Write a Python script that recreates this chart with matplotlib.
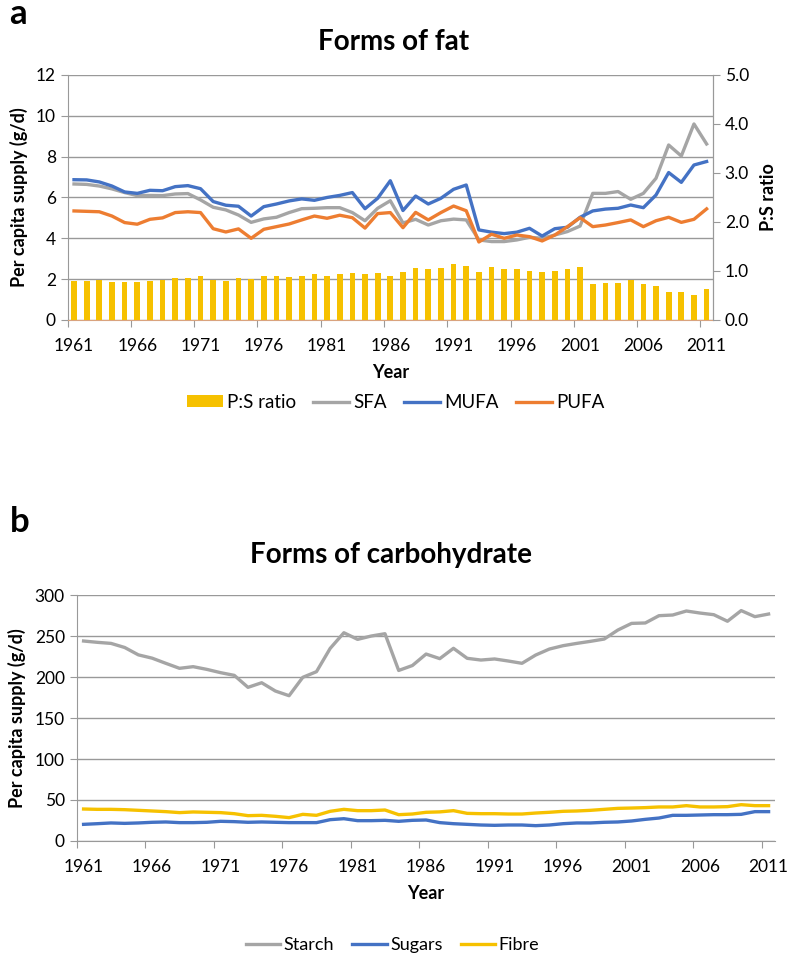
import numpy as np
import matplotlib
matplotlib.use('Agg')
import matplotlib.pyplot as plt
from matplotlib.patches import Patch
from matplotlib.lines import Line2D

plt.rcParams['font.family'] = ['Lato', 'DejaVu Sans']

# Años 1961-2011
years = list(range(1961, 2012))
year_labels = [str(y) for y in years[::5]]

# Panel a: formas de grasa (g/d) y razón P:S
sfa = [6.66, 6.64, 6.56, 6.42, 6.24, 6.09, 6.10, 6.09, 6.17, 6.19,
       5.88, 5.52, 5.39, 5.14, 4.78, 4.95, 5.03, 5.26, 5.45, 5.47,
       5.50, 5.50, 5.26, 4.86, 5.47, 5.84, 4.75, 4.93, 4.65, 4.86,
       4.94, 4.90, 3.92, 3.84, 3.84, 3.92, 4.05, 4.00, 4.16, 4.33,
       4.60, 6.20, 6.20, 6.29, 5.91, 6.20, 6.94, 8.57, 8.03, 9.60,
       8.62]
mufa = [6.87, 6.86, 6.76, 6.56, 6.27, 6.20, 6.35, 6.33, 6.53, 6.58,
        6.43, 5.80, 5.62, 5.57, 5.09, 5.55, 5.68, 5.83, 5.93, 5.86,
        6.00, 6.10, 6.24, 5.45, 5.96, 6.82, 5.36, 6.07, 5.68, 5.96,
        6.40, 6.61, 4.41, 4.30, 4.23, 4.30, 4.49, 4.11, 4.47, 4.54,
        5.03, 5.34, 5.43, 5.47, 5.63, 5.50, 6.12, 7.22, 6.74, 7.59,
        7.76]
pufa = [5.34, 5.32, 5.30, 5.09, 4.77, 4.69, 4.93, 5.00, 5.26, 5.30,
        5.26, 4.47, 4.31, 4.46, 4.00, 4.44, 4.57, 4.70, 4.90, 5.09,
        4.98, 5.13, 5.01, 4.50, 5.21, 5.26, 4.52, 5.27, 4.90, 5.26,
        5.58, 5.35, 3.82, 4.20, 4.00, 4.16, 4.08, 3.87, 4.16, 4.57,
        5.01, 4.57, 4.65, 4.77, 4.90, 4.57, 4.86, 5.03, 4.78, 4.93,
        5.44]
ps_ratio = [0.80, 0.80, 0.82, 0.78, 0.77, 0.77, 0.80, 0.82, 0.85, 0.85,
            0.89, 0.82, 0.80, 0.86, 0.84, 0.89, 0.90, 0.88, 0.89, 0.93,
            0.90, 0.93, 0.95, 0.93, 0.95, 0.90, 0.97, 1.06, 1.03, 1.06,
            1.14, 1.10, 0.97, 1.09, 1.03, 1.05, 0.99, 0.97, 0.99, 1.05,
            1.09, 0.73, 0.75, 0.75, 0.82, 0.73, 0.69, 0.58, 0.58, 0.51,
            0.63]

# Panel b: formas de carbohidrato (g/d)
starch = [243.9, 242.3, 241.0, 236.0, 227.0, 223.0, 216.7, 210.6, 212.6, 209.3,
          205.3, 202.0, 187.4, 193.0, 182.9, 177.2, 199.6, 206.5, 234.9, 254.0,
          245.9, 250.0, 252.8, 208.0, 214.0, 228.0, 222.4, 235.0, 222.8, 220.7,
          222.0, 219.5, 216.7, 226.8, 234.1, 238.2, 241.0, 243.5, 246.3, 257.3,
          265.4, 265.9, 274.8, 275.6, 280.5, 278.0, 276.0, 268.0, 281.0, 273.6,
          276.8]
sugars = [20.3, 21.1, 22.0, 21.5, 22.0, 22.8, 23.2, 22.4, 22.4, 22.8,
          24.0, 23.6, 22.8, 23.2, 22.8, 22.4, 22.4, 22.4, 26.0, 27.2,
          24.8, 24.8, 25.2, 24.0, 25.2, 25.6, 22.4, 21.1, 20.3, 19.5,
          19.1, 19.5, 19.5, 18.7, 19.5, 21.1, 22.0, 22.0, 22.8, 23.2,
          24.4, 26.4, 28.0, 31.3, 31.3, 31.7, 32.1, 32.1, 32.5, 35.8,
          35.8]
fibre = [39.0, 38.6, 38.6, 38.2, 37.4, 36.6, 35.8, 34.6, 35.4, 35.0,
         34.6, 33.3, 30.9, 31.3, 30.1, 28.5, 32.5, 31.3, 36.2, 38.6,
         37.0, 37.0, 37.8, 32.1, 32.9, 35.0, 35.5, 37.0, 33.7, 33.3,
         33.3, 32.9, 32.9, 34.1, 35.0, 36.2, 36.6, 37.4, 38.6, 39.8,
         40.2, 40.7, 41.5, 41.5, 43.1, 41.5, 41.5, 41.9, 44.3, 43.1,
         43.1]

c_gray = '#a5a5a5'
c_blue = '#4472c4'
c_orange = '#ed7d31'
c_gold = '#f6c100'
c_grid = '#999999'
tick_fs = 12.5
lw = 2.4

x = np.arange(len(years))


def style_xaxis(ax):
    ax.set_xlim(-0.5, len(years) - 0.5)
    ax.set_xticks(np.arange(-0.5, len(years) - 1, 5))
    ax.set_xticklabels([])
    ax.set_xticks(x[::5], minor=True)
    ax.set_xticklabels(year_labels, minor=True, fontsize=tick_fs)
    ax.tick_params(axis='x', which='major', length=5, color=c_grid, direction='out')
    ax.tick_params(axis='x', which='minor', length=0, pad=13)
    ax.set_xlabel('Year', fontweight='bold', fontsize=13, labelpad=7)


fig = plt.figure(figsize=(7.87, 9.56), dpi=100)

# ---- Panel a ----
pos_a = [0.0860, 0.6653, 0.8199, 0.2563]
ax = fig.add_axes(pos_a)
ax.set_ylim(0, 12)
ax.set_yticks(range(0, 13, 2))
ax.grid(axis='y', color=c_grid, linewidth=1)
ax.set_axisbelow(True)
ax.tick_params(axis='y', length=5, color=c_grid, labelsize=tick_fs)
ax.spines['top'].set_visible(False)
ax.spines['left'].set_color(c_grid)
ax.spines['right'].set_color(c_grid)
ax.spines['bottom'].set_color('#d9a37e')
style_xaxis(ax)
ax.set_ylabel('Per capita supply (g/d)', fontweight='bold', fontsize=13, labelpad=6)

ax_r = ax.twinx()
ax_r.set_ylim(0, 5)
ax_r.set_yticks(np.arange(0, 5.1, 1))
ax_r.set_yticklabels([f'{v:.1f}' for v in np.arange(0, 5.1, 1)])
ax_r.tick_params(axis='y', length=5, color=c_grid, labelsize=tick_fs)
ax_r.bar(x, ps_ratio, width=0.45, color=c_gold, zorder=2)
for s in ['top', 'bottom', 'left']:
    ax_r.spines[s].set_visible(False)
ax_r.spines['right'].set_color(c_grid)
ax_r.set_ylabel('P:S ratio', fontweight='bold', fontsize=13, labelpad=8)

ax_l = fig.add_axes(pos_a, sharex=ax, sharey=ax)
ax_l.patch.set_visible(False)
ax_l.axis('off')
ax_l.plot(x, sfa, color=c_gray, lw=lw)
ax_l.plot(x, mufa, color=c_blue, lw=lw)
ax_l.plot(x, pufa, color=c_orange, lw=lw)

fig.text(0.5, 0.956, 'Forms of fat', ha='center', va='center',
         fontsize=20, fontweight='bold')
fig.text(0.012, 0.985, 'a', ha='left', va='center', fontsize=25, fontweight='bold')

h_a = [Patch(facecolor=c_gold, edgecolor='none'),
       Line2D([], [], color=c_gray, lw=lw),
       Line2D([], [], color=c_blue, lw=lw),
       Line2D([], [], color=c_orange, lw=lw)]
fig.legend(h_a, ['P:S ratio', 'SFA', 'MUFA', 'PUFA'], loc='center',
           bbox_to_anchor=(0.503, 0.579), ncol=4, frameon=False,
           fontsize=13.5, handlelength=1.9, handleheight=0.6,
           columnspacing=0.9, handletextpad=0.25)

# ---- Panel b ----
pos_b = [0.0975, 0.1203, 0.8878, 0.2573]
bx = fig.add_axes(pos_b)
bx.set_ylim(0, 300)
bx.set_yticks(range(0, 301, 50))
bx.grid(axis='y', color=c_grid, linewidth=1)
bx.set_axisbelow(True)
bx.tick_params(axis='y', length=5, color=c_grid, labelsize=tick_fs)
for s in ['top', 'right']:
    bx.spines[s].set_visible(False)
bx.spines['left'].set_color(c_grid)
bx.spines['bottom'].set_color(c_grid)
style_xaxis(bx)
bx.set_ylabel('Per capita supply (g/d)', fontweight='bold', fontsize=13, labelpad=6)
bx.plot(x, starch, color=c_gray, lw=lw, label='Starch')
bx.plot(x, sugars, color=c_blue, lw=lw, label='Sugars')
bx.plot(x, fibre, color=c_gold, lw=lw, label='Fibre')

fig.text(0.497, 0.419, 'Forms of carbohydrate', ha='center', va='center',
         fontsize=20, fontweight='bold')
fig.text(0.012, 0.454, 'b', ha='left', va='center', fontsize=25, fontweight='bold')

fig.legend(*bx.get_legend_handles_labels(), loc='center',
           bbox_to_anchor=(0.499, 0.011), ncol=3, frameon=False,
           fontsize=13, handlelength=1.9, columnspacing=1.0,
           handletextpad=0.2)

fig.savefig('out.png', dpi=100)
